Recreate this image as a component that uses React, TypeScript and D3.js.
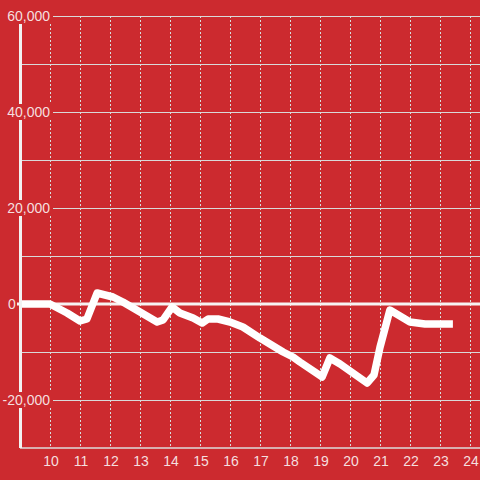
import React from "react";
import * as d3 from "d3";

const xs = [9.0, 10.0, 10.57, 11.0, 11.23, 11.57, 12.1, 12.43, 13.57, 13.77, 14.07, 14.33, 14.77, 15.07, 15.27, 15.6, 16.0, 16.43, 17.0, 17.77, 18.1, 18.33, 19.07, 19.33, 19.67, 20.57, 20.8, 21.0, 21.33, 22.0, 22.5, 23.43];
const values = [0, 0, -1875, -3540, -3125, 2290, 1460, 420, -3750, -3330, -625, -1875, -2920, -3960, -3125, -3125, -3750, -4790, -7100, -10000, -11040, -12080, -15200, -11250, -12500, -16460, -14800, -9000, -1250, -3750, -4170, -4170];
const xTicks = [10, 11, 12, 13, 14, 15, 16, 17, 18, 19, 20, 21, 22, 23, 24];
const yGrid = [60000, 50000, 40000, 30000, 20000, 10000, 0, -10000, -20000, -30000];
const yLabels = [60000, 40000, 20000, 0, -20000];

const W = 480, H = 480;
const BG = "#cc2a2f";
const TXT = "#f5dfdf";

export default function App() {
  const x = d3.scaleLinear().domain([9, 24 + 1 / 3]).range([20, 480]);
  const y = d3.scaleLinear().domain([-30000, 60000]).range([448, 16]);
  const fmt = d3.format(",");
  const line = d3.line<number>().x((_, i) => x(xs[i])).y((v) => y(v));
  const font = "'Liberation Sans', Arial, sans-serif";
  return (
    <svg width={W} height={H} style={{ position: "fixed", left: 0, top: 0 }} fontFamily={font}>
      <rect x={0} y={0} width={W} height={H} fill={BG} />
      {yGrid.filter((v) => v !== 0 && v !== -30000).map((v) => (
        <line key={v} x1={x(9)} x2={W} y1={y(v) + 0.5} y2={y(v) + 0.5} stroke="#d9d9d9" strokeWidth={1} />
      ))}
      {xTicks.map((t) => (
        <line key={t} x1={x(t) + 0.5} x2={x(t) + 0.5} y1={y(60000)} y2={y(-30000)} stroke="#d6dede" strokeWidth={1} strokeDasharray="2,2" />
      ))}
      <line x1={x(-30000) * 0 + 20} x2={W} y1={y(-30000)} y2={y(-30000)} stroke="#dcdcdc" strokeWidth={1.5} />
      <line x1={17} x2={W} y1={y(0)} y2={y(0)} stroke="#f7f2f2" strokeWidth={3} />
      <path d={line(values) || ""} fill="none" stroke="#ffffff" strokeWidth={7.5} strokeLinejoin="round" strokeLinecap="butt" />
      <line x1={20.5} x2={20.5} y1={y(60000)} y2={y(-30000)} stroke="#f2f2f2" strokeWidth={3} />
      {yLabels.map((v) => {
        const yy = y(v);
        const isZero = v === 0;
        return (
          <g key={v}>
            <rect x={isZero ? 5 : 0} y={yy - 8} width={isZero ? 12 : 53} height={16} fill={BG} />
            <text x={isZero ? 8 : 50} y={yy} dy="0.35em" textAnchor={isZero ? "start" : "end"} fontSize={14} fill={TXT}>
              {fmt(v).replace("−", "-")}
            </text>
          </g>
        );
      })}
      {xTicks.map((t) => (
        <text key={t} x={x(t) + 1} y={461} dy="0.35em" textAnchor="middle" fontSize={14} fill={TXT}>
          {t}
        </text>
      ))}
    </svg>
  );
}
